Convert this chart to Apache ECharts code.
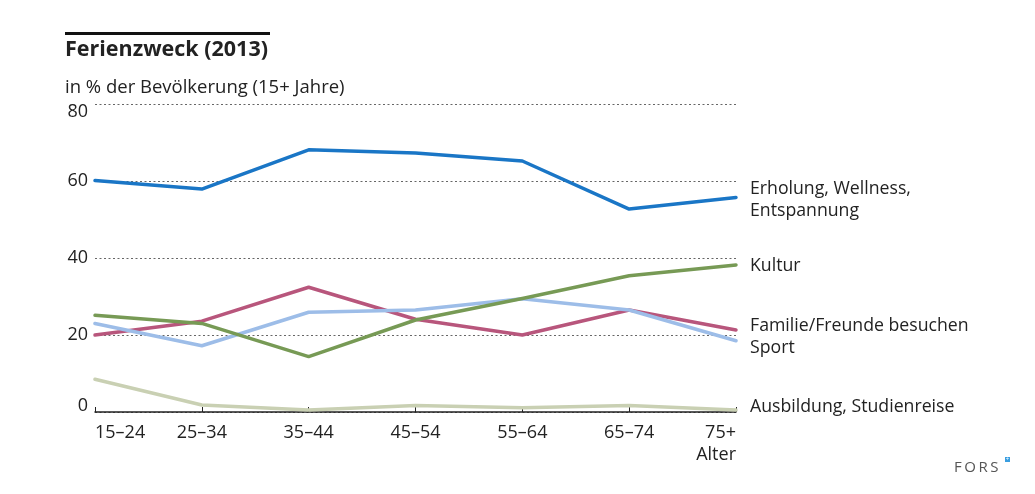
<!DOCTYPE html>
<html>
<head>
<meta charset="utf-8">
<script src="https://cdn.jsdelivr.net/npm/echarts@6/dist/echarts.min.js"></script>
<style>html,body{margin:0;padding:0;background:#fff;}#c{width:1035px;height:494px;}</style>
</head>
<body>
<div id="c"></div>
<script>
const categories = ['15–24', '25–34', '35–44', '45–54', '55–64', '65–74', '75+'];
const erholung = [60.1, 57.9, 68.1, 67.3, 65.2, 52.7, 55.7];
const kultur = [25.1, 23.0, 14.4, 23.9, 29.5, 35.4, 38.2];
const familie = [20.0, 23.6, 32.4, 24.1, 20.0, 26.5, 21.3];
const sport = [23.0, 17.2, 25.9, 26.5, 29.4, 26.5, 18.5];
const ausbildung = [8.5, 1.8, 0.5, 1.7, 1.1, 1.7, 0.5];
const yTicks = [0, 20, 40, 60, 80];

const FONT = '"Open Sans", "Noto Sans", sans-serif';
const chart = echarts.init(document.getElementById('c'), null, {renderer: 'canvas'});

function line(name, data, color) {
  return {
    name: name, type: 'line', data: data, symbol: 'none', smooth: false,
    lineStyle: {color: color, width: 3.5, cap: 'round', join: 'round'},
    itemStyle: {color: color}, animation: false, silent: true
  };
}

const labelStyle = {fontFamily: FONT, fontSize: 17.7, fill: '#222'};
const rightLabels = [
  ['Erholung, Wellness,', 189], ['Entspannung', 211], ['Kultur', 266],
  ['Familie/Freunde besuchen', 326], ['Sport', 348], ['Ausbildung, Studienreise', 407]
];

chart.setOption({
  animation: false,
  grid: {left: 95, right: 299, top: 104, bottom: 82, containLabel: false},
  xAxis: {
    type: 'category', data: categories, boundaryGap: false,
    axisLine: {show: true, lineStyle: {color: '#222', width: 1.5}},
    axisTick: {show: true, inside: true, length: 5, lineStyle: {color: '#222', width: 1}},
    axisLabel: {fontFamily: FONT, fontSize: 18, color: '#222', margin: 12,
      alignMinLabel: 'left', alignMaxLabel: 'right'},
    splitLine: {show: false}
  },
  yAxis: {
    type: 'value', min: yTicks[0], max: yTicks[yTicks.length - 1], interval: 20,
    axisLine: {show: false}, axisTick: {show: false},
    axisLabel: {
      fontFamily: FONT, fontSize: 18, color: '#222', margin: 7,
      formatter: function (v) {
        if (v === yTicks[yTicks.length - 1]) return '{top|' + v + '}';
        if (v === yTicks[0]) return '{bot|' + v + '}';
        return '{n|' + v + '}';
      },
      rich: {
        top: {fontFamily: FONT, fontSize: 18, color: '#222', padding: [15, 0, 0, 0]},
        bot: {fontFamily: FONT, fontSize: 18, color: '#222', padding: [0, 0, 13, 0]},
        n: {fontFamily: FONT, fontSize: 18, color: '#222'}
      }
    },
    splitLine: {show: true, lineStyle: {color: '#666', width: 1, type: [2, 2.5]}}
  },
  series: [
    line('Ausbildung, Studienreise', ausbildung, '#c9d0b3'),
    line('Familie/Freunde besuchen', familie, '#b8567c'),
    line('Sport', sport, '#9dbde8'),
    line('Kultur', kultur, '#779a55'),
    line('Erholung, Wellness, Entspannung', erholung, '#1a76c6')
  ],
  graphic: [
    {type: 'rect', left: 65, top: 32, shape: {width: 205, height: 3}, style: {fill: '#111'}},
    {type: 'text', left: 65, top: 39, style: {text: 'Ferienzweck (2013)', fontFamily: FONT, fontSize: 21.5, fontWeight: 'bold', fill: '#222'}},
    {type: 'text', left: 65, top: 78, style: {text: 'in % der Bevölkerung (15+ Jahre)', fontFamily: FONT, fontSize: 18.5, fill: '#222'}},
    {type: 'text', right: 299, top: 446, style: {text: 'Alter', fontFamily: FONT, fontSize: 18, fill: '#222'}},
    ...rightLabels.map(([t, y]) => ({type: 'text', x: 750, y: y, style: Object.assign({text: t, verticalAlign: 'middle'}, labelStyle)})),
    {type: 'text', x: 954, y: 468, style: {text: 'F\u2009O\u2009R\u2009S', fontFamily: FONT, fontSize: 15, fill: '#555', verticalAlign: 'middle'}},
    {type: 'rect', shape: {x: 1005, y: 457, width: 5, height: 5}, style: {fill: '#3a9ee0'}},
    {type: 'text', x: 1007.5, y: 459.5, style: {text: '+', fontFamily: FONT, fontSize: 6, fill: '#fff', align: 'center', verticalAlign: 'middle'}}
  ]
});
</script>
</body>
</html>
